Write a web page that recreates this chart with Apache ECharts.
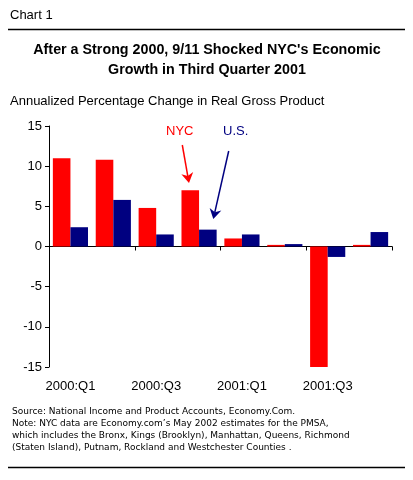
<!DOCTYPE html>
<html>
<head>
<meta charset="utf-8">
<script src="https://cdn.jsdelivr.net/npm/echarts@6/dist/echarts.min.js"></script>
<style>
html,body{margin:0;padding:0;background:#fff;}
#c{width:413px;height:480px;}
</style>
</head>
<body>
<div id="c"></div>
<script>
const categories = ['2000:Q1','2000:Q2','2000:Q3','2000:Q4','2001:Q1','2001:Q2','2001:Q3','2001:Q4'];
const nycValues = [11.0, 10.8, 4.8, 7.0, 1.0, 0.2, -15.2, 0.2];
const usValues = [2.4, 5.8, 1.5, 2.1, 1.5, 0.3, -1.3, 1.8];
const yTicks = { min: -15, max: 15, interval: 5 };

const RED = '#FF0000', NAVY = '#000080';
const FONT = 'Liberation Sans, Arial, sans-serif';

function arrow(x1, y1, x2, y2, color, headLen, headHalf) {
  const dx = x2 - x1, dy = y2 - y1, L = Math.hypot(dx, dy);
  const ux = dx / L, uy = dy / L;
  const bx = x2 - ux * headLen, by = y2 - uy * headLen;
  const px = -uy * headHalf, py = ux * headHalf;
  const nx = x2 - ux * headLen * 0.7, ny = y2 - uy * headLen * 0.7;
  return [
    { type: 'line', shape: { x1: x1, y1: y1, x2: nx, y2: ny }, style: { stroke: color, lineWidth: 1.5 } },
    { type: 'polygon', shape: { points: [[x2, y2], [bx + px, by + py], [nx, ny], [bx - px, by - py]] }, style: { fill: color } }
  ];
}

const chart = echarts.init(document.getElementById('c'), null, { renderer: 'canvas' });
chart.setOption({
  backgroundColor: '#fff',
  animation: false,
  textStyle: { fontFamily: FONT },
  grid: { left: 49, right: 21, top: 126, bottom: 113, containLabel: false },
  xAxis: [
    {
      type: 'category',
      data: categories,
      axisLine: { onZero: true, lineStyle: { color: '#000', width: 1 } },
      axisTick: { show: true, length: 4, lineStyle: { color: '#000' } },
      axisLabel: { show: false },
      splitLine: { show: false }
    },
    {
      type: 'category',
      data: categories,
      position: 'bottom',
      axisLine: { show: false, onZero: false },
      axisTick: { show: false },
      axisLabel: { show: true, interval: 1, margin: 13, fontSize: 13, color: '#000', fontFamily: FONT },
      splitLine: { show: false }
    }
  ],
  yAxis: {
    type: 'value',
    min: yTicks.min,
    max: yTicks.max,
    interval: yTicks.interval,
    axisLine: { show: true, lineStyle: { color: '#000', width: 1 } },
    axisTick: { show: true, length: 4, lineStyle: { color: '#000' } },
    axisLabel: { fontSize: 13, color: '#000', margin: 7, fontFamily: FONT },
    splitLine: { show: false }
  },
  series: [
    {
      name: 'NYC', type: 'bar', xAxisIndex: 0, data: nycValues,
      itemStyle: { color: RED }, barGap: '0%', barCategoryGap: '18%'
    },
    {
      name: 'U.S.', type: 'bar', xAxisIndex: 0, data: usValues,
      itemStyle: { color: NAVY }, barGap: '0%', barCategoryGap: '18%'
    }
  ],
  graphic: [
    { type: 'text', left: 10, top: 9, style: { text: 'Chart 1', fontSize: 13, fill: '#000', fontFamily: FONT } },
    { type: 'line', shape: { x1: 8, y1: 29.5, x2: 405, y2: 29.5 }, style: { stroke: '#000', lineWidth: 1.5 } },
    { type: 'text', x: 207, y: 50, style: { text: "After a Strong 2000, 9/11 Shocked NYC's Economic", fontSize: 14.3, fontWeight: 'bold', fill: '#000', fontFamily: FONT, textAlign: 'center', textVerticalAlign: 'middle' } },
    { type: 'text', x: 207, y: 70, style: { text: 'Growth in Third Quarter 2001', fontSize: 14.3, fontWeight: 'bold', fill: '#000', fontFamily: FONT, textAlign: 'center', textVerticalAlign: 'middle' } },
    { type: 'text', left: 10, top: 95, style: { text: 'Annualized Percentage Change in Real Gross Product', fontSize: 13, fill: '#000', fontFamily: FONT } },
    { type: 'text', x: 166, y: 131, style: { text: 'NYC', fontSize: 13, fill: RED, fontFamily: FONT, textVerticalAlign: 'middle' } },
    { type: 'text', x: 223, y: 131, style: { text: 'U.S.', fontSize: 13, fill: NAVY, fontFamily: FONT, textVerticalAlign: 'middle' } },
    ...arrow(182.3, 145, 189, 183, RED, 10, 6),
    ...arrow(228.7, 151, 213.3, 219, NAVY, 10, 6),
    {
      type: 'text', x: 12, y: 406,
      style: {
        text: 'Source: National Income and Product Accounts, Economy.Com.\nNote: NYC data are Economy.com\u2019s May 2002 estimates for the PMSA,\nwhich includes the Bronx, Kings (Brooklyn), Manhattan, Queens, Richmond\n(Staten Island), Putnam, Rockland and Westchester Counties .',
        fontSize: 9, lineHeight: 12, fill: '#000', fontFamily: 'DejaVu Sans, Verdana, sans-serif'
      }
    },
    { type: 'line', shape: { x1: 8, y1: 467.5, x2: 405, y2: 467.5 }, style: { stroke: '#000', lineWidth: 1.5 } }
  ]
});
</script>
</body>
</html>
